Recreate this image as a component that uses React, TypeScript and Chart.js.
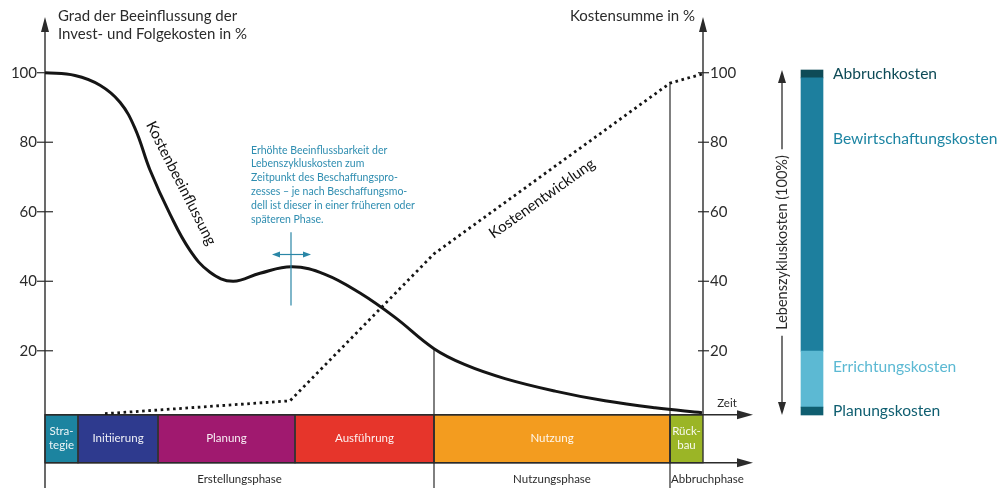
import React, { useEffect, useRef } from 'react';
import { Chart, registerables } from 'chart.js';

Chart.register(...registerables);

// ---------- data ----------
// time axis units (arbitrary lifecycle time)
const influenceT = [0, 30, 55, 75, 90, 105, 125, 145, 165, 188, 215, 247, 280, 315, 350, 389, 420, 460, 510, 560, 610, 657];
const influenceV = [100, 99.2, 96.4, 91.5, 84, 72, 59.3, 48.9, 42.6, 40.0, 42.3, 44.2, 42.0, 36.6, 29.6, 20.6, 16.0, 12.0, 8.4, 5.6, 3.6, 2.2];

const costT = [60, 245, 389, 625, 657];
const costV = [1.9, 5.6, 47.9, 97.0, 99.6];

const yTicks = [20, 40, 60, 80, 100];

const phaseNames = ['Stra-\ntegie', 'Initiierung', 'Planung', 'Ausführung', 'Nutzung', 'Rück-\nbau'];
const phaseBounds = [0, 33, 113, 250, 389, 625, 658];
const phaseColors = ['#1c84a0', '#2e3a8e', '#a0196f', '#e6352b', '#f39c1f', '#9bb526'];

const groupNames = ['Erstellungsphase', 'Nutzungsphase', 'Abbruchphase'];
const groupBounds = [0, 389, 625, 700];

const lifecycleNames = ['Planungskosten', 'Errichtungskosten', 'Bewirtschaftungskosten', 'Abbruchkosten'];
const lifecycleShares = [2.3, 16.2, 79.2, 2.3];
const lifecycleColors = ['#0f5e70', '#5cb9d3', '#1d7f9e', '#0e4b57'];
const lifecycleLabelColors = ['#0f5e70', '#5cb9d3', '#1d85a3', '#0e4b57'];
const lifecycleLabelAt = [1.15, 14, 80, 98.9];

const noteLines = [
  'Erhöhte Beeinflussbarkeit der',
  'Lebenszykluskosten zum',
  'Zeitpunkt des Beschaffungspro-',
  'zesses – je nach Beschaffungsmo-',
  'dell ist dieser in einer früheren oder',
  'späteren Phase.',
];

// ---------- layout (in scale units) ----------
const AXIS_V = 1.6;
const PHASE_BOTTOM_V = -12.2;
const GROUP_LABEL_V = -17.1;
const RIGHT_AXIS_T = 658;
const ZEIT_END_T = 708;
const BAR_T = 767;
const LIFE_ARROW_T = 737;
const LIFE_LABEL_T = 788;

const FONT = "'Lato', 'Noto Sans', sans-serif";
const INK = '#2b2b2b';

const cumulative: number[][] = (() => {
  let s = 0;
  return lifecycleShares.map((v) => {
    const r = [s, s + v];
    s += v;
    return r;
  });
})();

function head(ctx: CanvasRenderingContext2D, x: number, y: number, dir: string, len: number, half: number) {
  ctx.beginPath();
  ctx.moveTo(x, y);
  if (dir === 'up') { ctx.lineTo(x - half, y + len); ctx.lineTo(x + half, y + len); }
  if (dir === 'down') { ctx.lineTo(x - half, y - len); ctx.lineTo(x + half, y - len); }
  if (dir === 'right') { ctx.lineTo(x - len, y - half); ctx.lineTo(x - len, y + half); }
  if (dir === 'left') { ctx.lineTo(x + len, y - half); ctx.lineTo(x + len, y + half); }
  ctx.closePath();
  ctx.fill();
}

function line(ctx: CanvasRenderingContext2D, x1: number, y1: number, x2: number, y2: number) {
  ctx.beginPath();
  ctx.moveTo(x1, y1);
  ctx.lineTo(x2, y2);
  ctx.stroke();
}

const diagramPlugin = {
  id: 'diagram',
  beforeDatasetsDraw(chart: any) {
    const ctx: CanvasRenderingContext2D = chart.ctx;
    const xs = chart.scales.x;
    const ys = chart.scales.y;
    const X = (t: number) => xs.getPixelForValue(t);
    const Y = (v: number) => ys.getPixelForValue(v);
    const bottom = chart.height;
    ctx.save();

    // phase boxes
    const top = Y(AXIS_V);
    const bot = Y(PHASE_BOTTOM_V);
    for (let i = 0; i < phaseNames.length; i++) {
      const x1 = X(phaseBounds[i]);
      const x2 = X(phaseBounds[i + 1]);
      ctx.fillStyle = phaseColors[i];
      ctx.fillRect(x1, top, x2 - x1, bot - top);
    }
    ctx.strokeStyle = '#333';
    ctx.lineWidth = 1.4;
    for (let i = 0; i < phaseNames.length; i++) {
      const x1 = X(phaseBounds[i]);
      const x2 = X(phaseBounds[i + 1]);
      ctx.strokeRect(x1, top, x2 - x1, bot - top);
    }
    ctx.fillStyle = 'rgba(255,255,255,0.92)';
    ctx.font = `11.5px ${FONT}`;
    ctx.textAlign = 'center';
    ctx.textBaseline = 'middle';
    for (let i = 0; i < phaseNames.length; i++) {
      const cx = (X(phaseBounds[i]) + X(phaseBounds[i + 1])) / 2;
      const parts = phaseNames[i].split('\n');
      const cy = (top + bot) / 2;
      parts.forEach((p, k) => {
        ctx.fillText(p, cx, cy + (k - (parts.length - 1) / 2) * 14);
      });
    }

    // group labels
    ctx.fillStyle = INK;
    ctx.font = `11.5px ${FONT}`;
    for (let i = 0; i < groupNames.length; i++) {
      const cx = (X(groupBounds[i]) + X(groupBounds[i + 1])) / 2;
      ctx.fillText(groupNames[i], cx, Y(GROUP_LABEL_V));
    }

    // axes
    ctx.strokeStyle = INK;
    ctx.fillStyle = INK;
    ctx.lineWidth = 1.4;
    const tipY = 17;
    line(ctx, X(0), bottom, X(0), tipY + 10);
    head(ctx, X(0), tipY, 'up', 15, 4);
    line(ctx, X(RIGHT_AXIS_T), Y(AXIS_V), X(RIGHT_AXIS_T), tipY + 10);
    head(ctx, X(RIGHT_AXIS_T), tipY, 'up', 15, 4);
    line(ctx, X(0), Y(AXIS_V), X(ZEIT_END_T) - 10, Y(AXIS_V));
    head(ctx, X(ZEIT_END_T), Y(AXIS_V), 'right', 16, 4.5);
    line(ctx, X(0), Y(PHASE_BOTTOM_V), X(ZEIT_END_T) - 10, Y(PHASE_BOTTOM_V));
    head(ctx, X(ZEIT_END_T), Y(PHASE_BOTTOM_V), 'right', 16, 4.5);
    ctx.font = `11.5px ${FONT}`;
    ctx.textAlign = 'center';
    ctx.fillText('Zeit', X(682), Y(AXIS_V) - 11);

    // phase separators
    ctx.lineWidth = 1.2;
    line(ctx, X(phaseBounds[4]), Y(influenceV[15]), X(phaseBounds[4]), bottom);
    line(ctx, X(phaseBounds[5]), Y(costV[3]), X(phaseBounds[5]), bottom);

    // ticks
    ctx.lineWidth = 1.2;
    ctx.font = `15px ${FONT}`;
    ctx.textBaseline = 'middle';
    yTicks.forEach((v) => {
      const py = Y(v);
      line(ctx, X(0) - 8, py, X(0) + 8, py);
      ctx.textAlign = 'right';
      ctx.fillText(String(v), X(0) - 8, py);
      line(ctx, X(RIGHT_AXIS_T) - 5, py, X(RIGHT_AXIS_T) + 6, py);
      ctx.textAlign = 'left';
      ctx.fillText(String(v), X(RIGHT_AXIS_T) + 7, py);
    });

    // titles
    ctx.font = `15px ${FONT}`;
    ctx.textAlign = 'left';
    ctx.fillText('Grad der Beeinflussung der', X(0) + 13, 16);
    ctx.fillText('Invest- und Folgekosten in %', X(0) + 13, 34);
    ctx.textAlign = 'right';
    ctx.fillText('Kostensumme in %', X(RIGHT_AXIS_T) - 8, 16);

    ctx.restore();
  },
  afterDatasetsDraw(chart: any) {
    const ctx: CanvasRenderingContext2D = chart.ctx;
    const xs = chart.scales.x;
    const ys = chart.scales.y;
    const y2 = chart.scales.y2;
    const X = (t: number) => xs.getPixelForValue(t);
    const Y = (v: number) => ys.getPixelForValue(v);
    const Y2 = (v: number) => y2.getPixelForValue(v);
    ctx.save();
    ctx.fillStyle = '#111';
    ctx.textAlign = 'center';
    ctx.textBaseline = 'middle';
    ctx.font = `15px ${FONT}`;

    // curve labels
    ctx.save();
    ctx.translate(X(136), Y(68.2));
    ctx.rotate((63 * Math.PI) / 180);
    ctx.fillText('Kostenbeeinflussung', 0, 0);
    ctx.restore();

    ctx.save();
    ctx.translate(X(497), Y(63.8));
    ctx.rotate((-35.5 * Math.PI) / 180);
    ctx.fillText('Kostenentwicklung', 0, 0);
    ctx.restore();

    // annotation
    ctx.fillStyle = '#2e8db0';
    ctx.font = `10.5px ${FONT}`;
    ctx.textAlign = 'left';
    noteLines.forEach((l, i) => {
      ctx.fillText(l, X(206), Y(77.7) + i * 13.8);
    });
    ctx.strokeStyle = '#2a86a6';
    ctx.fillStyle = '#2a86a6';
    ctx.lineWidth = 1.2;
    line(ctx, X(246), Y(54.1), X(246), Y(33.0));
    line(ctx, X(231), Y(47.7), X(262), Y(47.7));
    head(ctx, X(227), Y(47.7), 'left', 8, 3);
    head(ctx, X(266), Y(47.7), 'right', 8, 3);

    // lifecycle arrow
    ctx.strokeStyle = INK;
    ctx.fillStyle = INK;
    ctx.lineWidth = 1.3;
    const ax = X(LIFE_ARROW_T);
    const aTop = Y2(100);
    const aBot = Y2(0);
    const mid = Y2(50);
    ctx.font = `14.5px ${FONT}`;
    const label = 'Lebenszykluskosten (100%)';
    const w = ctx.measureText(label).width;
    line(ctx, ax, aTop + 8, ax, mid - w / 2 - 6);
    line(ctx, ax, mid + w / 2 + 6, ax, aBot - 8);
    head(ctx, ax, aTop, 'up', 13, 4);
    head(ctx, ax, aBot, 'down', 13, 4);
    ctx.save();
    ctx.translate(ax, mid);
    ctx.rotate(-Math.PI / 2);
    ctx.textAlign = 'center';
    ctx.textBaseline = 'middle';
    ctx.fillText(label, 0, 0);
    ctx.restore();

    // lifecycle labels
    ctx.font = `15.6px ${FONT}`;
    ctx.textAlign = 'left';
    ctx.textBaseline = 'middle';
    lifecycleNames.forEach((n, i) => {
      ctx.fillStyle = lifecycleLabelColors[i];
      ctx.fillText(n, X(LIFE_LABEL_T), Y2(lifecycleLabelAt[i]));
    });

    ctx.restore();
  },
};

export default function App() {
  const ref = useRef<HTMLCanvasElement>(null);
  useEffect(() => {
    const barSets = lifecycleNames.map((n, i) => ({
      type: 'bar' as const,
      label: n,
      data: [{ x: BAR_T, y: cumulative[i] }],
      backgroundColor: lifecycleColors[i],
      borderWidth: 0,
      barThickness: 22,
      grouped: false,
      yAxisID: 'y2',
      order: 3,
    }));
    const chart = new Chart(ref.current!, {
      type: 'line',
      data: {
        datasets: [
          {
            type: 'line',
            label: 'Kostenbeeinflussung',
            data: influenceT.map((t, i) => ({ x: t, y: influenceV[i] })),
            borderColor: '#151515',
            borderWidth: 3,
            pointRadius: 0,
            tension: 0.4,
            fill: false,
            yAxisID: 'y',
            order: 1,
          },
          {
            type: 'line',
            label: 'Kostenentwicklung',
            data: costT.map((t, i) => ({ x: t, y: costV[i] })),
            borderColor: '#151515',
            borderWidth: 2.8,
            borderDash: [2.6, 3.6],
            borderCapStyle: 'butt',
            pointRadius: 0,
            tension: 0,
            fill: false,
            yAxisID: 'y',
            order: 2,
          },
          ...barSets,
        ] as any,
      },
      options: {
        animation: false,
        responsive: true,
        maintainAspectRatio: false,
        layout: { padding: 0 },
        plugins: { legend: { display: false }, tooltip: { enabled: false }, title: { display: false } },
        events: [],
        scales: {
          x: { type: 'linear', min: -45, max: 960, display: false, offset: false },
          y: { type: 'linear', min: -19.48, max: 120.92, display: false },
          y2: { type: 'linear', min: -21.16, max: 120.29, display: false },
        },
      } as any,
      plugins: [diagramPlugin],
    });
    return () => chart.destroy();
  }, []);
  return (
    <div style={{ position: 'fixed', left: 0, top: 0, width: 1005, height: 488, background: '#fff' }}>
      <canvas ref={ref} />
    </div>
  );
}
